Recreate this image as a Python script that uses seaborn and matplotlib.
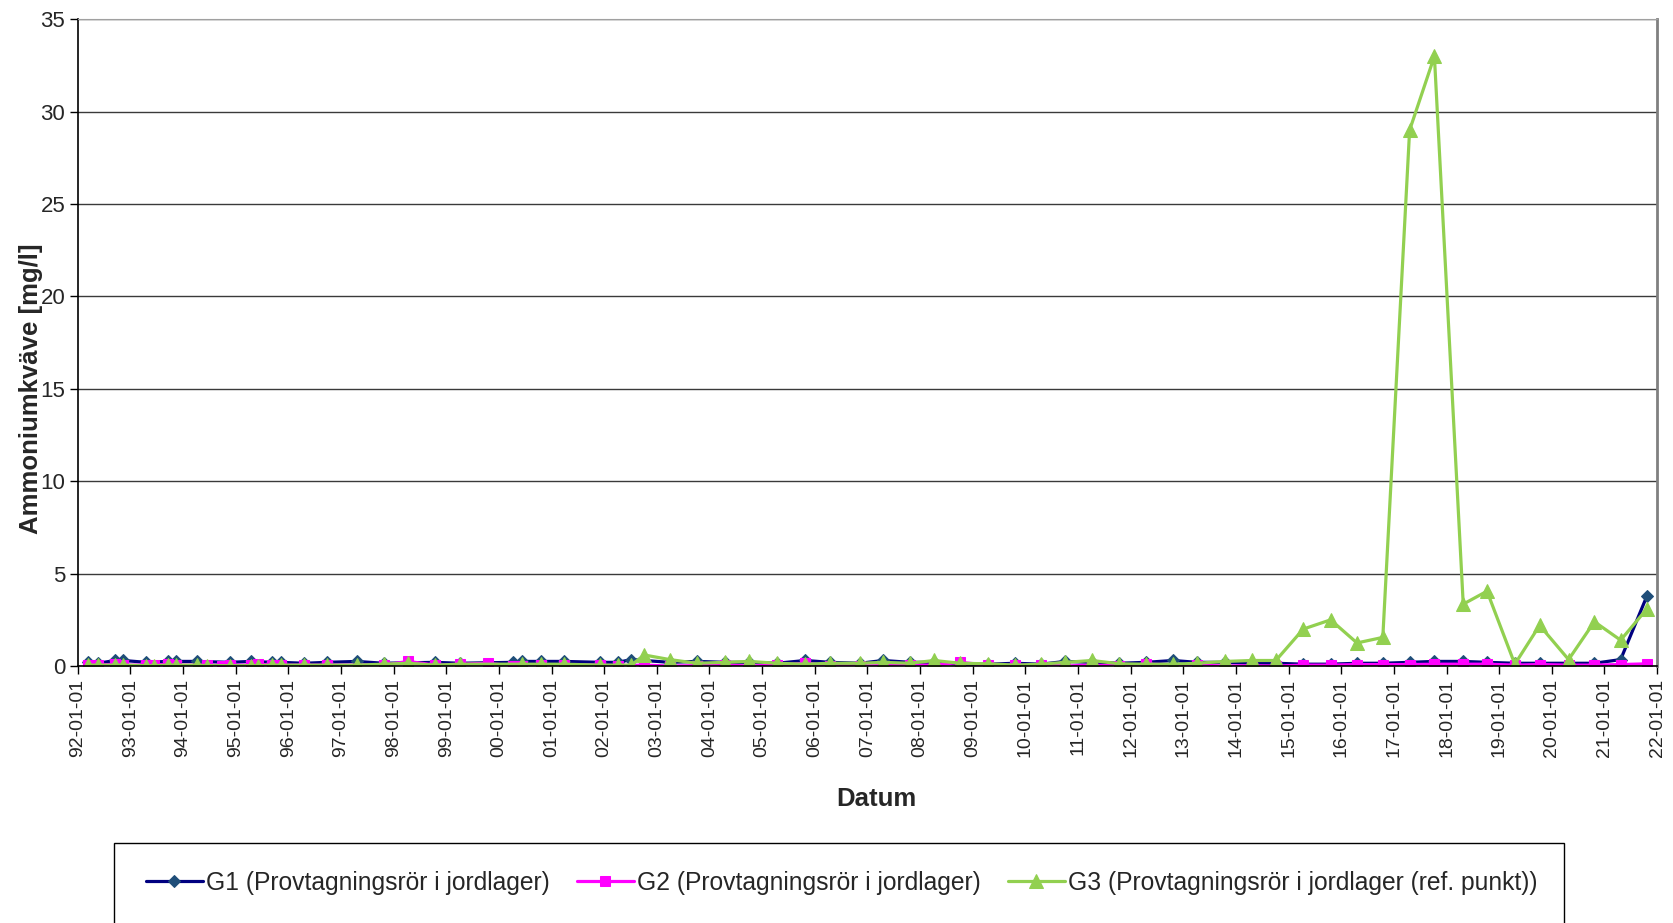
import numpy as np
import pandas as pd
import matplotlib
matplotlib.use("Agg")
import matplotlib.pyplot as plt
import matplotlib.dates as mdates
from matplotlib.patches import Rectangle
import seaborn as sns

sns.set_style("white")
plt.rcParams['font.family'] = ['Liberation Sans', 'DejaVu Sans']

nan = np.nan

# sampling dates
dates = [
    "1992-03-14", "1992-05-22", "1992-09-16", "1992-11-13", "1993-04-20", "1993-06-14",
    "1993-09-16", "1993-11-13", "1994-04-05", "1994-06-14", "1994-09-27", "1994-11-20",
    "1995-04-16", "1995-06-07", "1995-09-13", "1995-11-13", "1996-04-20", "1996-09-27",
    "1997-04-20", "1997-10-23", "1998-04-13", "1998-10-16", "1999-04-05", "1999-10-20",
    "2000-04-09", "2000-06-07", "2000-10-23", "2001-03-29", "2001-12-02", "2002-04-05",
    "2002-07-09", "2002-10-05", "2003-04-01", "2003-10-05", "2004-04-20", "2004-10-05",
    "2005-04-13", "2005-10-27", "2006-04-16", "2006-11-10", "2007-04-20", "2007-10-23",
    "2008-04-09", "2008-10-05", "2009-04-20", "2009-10-23", "2010-04-20", "2010-10-05",
    "2011-04-09", "2011-10-16", "2012-04-16", "2012-10-23", "2013-04-05", "2013-10-20",
    "2014-04-23", "2014-10-05", "2015-04-13", "2015-10-20", "2016-04-20", "2016-10-16",
    "2017-04-20", "2017-10-09", "2018-04-27", "2018-10-09", "2019-04-20", "2019-10-09",
    "2020-04-27", "2020-10-23", "2021-04-23", "2021-10-23",
]

g1 = [
    0.2, 0.15, 0.3, 0.3, 0.2, nan, 0.25, 0.25, 0.25, nan, nan, 0.2,
    0.25, nan, 0.2, 0.2, 0.15, 0.2, 0.25, 0.15, nan, 0.2, 0.15, nan,
    0.2, 0.25, 0.25, 0.25, 0.2, 0.2, 0.35, nan, 0.2, 0.25, 0.2, 0.2,
    0.15, 0.3, 0.2, 0.15, 0.3, 0.2, 0.2, 0.1, 0.1, 0.15, 0.1, 0.25,
    0.2, 0.15, 0.2, 0.3, 0.2, 0.2, 0.15, 0.15, 0.1, 0.1, 0.15, 0.15,
    0.2, 0.25, 0.25, 0.2, 0.15, 0.15, 0.15, 0.15, 0.35, 3.8,
]

g2 = [
    0.05, 0.05, 0.1, 0.05, 0.05, 0.05, 0.1, 0.05, nan, 0.05, 0.02, 0.05,
    0.05, 0.1, 0.05, 0.05, 0.05, 0.05, nan, 0.05, 0.25, 0.05, 0.1, 0.15,
    0.0, 0.02, 0.05, 0.05, 0.05, 0.02, nan, 0.05, 0.0, 0.02, 0.05, 0.0,
    0.05, 0.15, 0.02, 0.0, 0.02, 0.05, 0.05, 0.2, 0.05, 0.05, 0.05, 0.0,
    0.05, 0.0, 0.1, nan, 0.05, 0.0, 0.02, 0.0, 0.05, 0.05, 0.08, 0.08,
    0.08, 0.1, 0.1, 0.1, 0.05, 0.08, 0.05, 0.05, 0.08, 0.12,
]

g3 = [
    0.05, 0.05, 0.05, 0.05, 0.02, 0.02, 0.05, 0.05, 0.05, 0.02, nan, 0.02,
    0.02, 0.02, 0.05, 0.05, 0.05, 0.05, 0.05, 0.1, 0.15, 0.05, 0.1, nan,
    nan, 0.1, 0.1, 0.1, 0.05, 0.05, 0.05, 0.6, 0.35, 0.15, 0.2, 0.25,
    0.15, 0.1, 0.15, 0.15, 0.2, 0.15, 0.3, 0.15, 0.12, 0.05, 0.1, 0.2,
    0.3, 0.12, 0.1, 0.1, 0.15, 0.25, 0.3, 0.3, 2.0, 2.5, 1.25, 1.55,
    29.0, 33.0, 3.35, 4.05, 0.1, 2.2, 0.35, 2.4, 1.4, 3.1,
]

labels = [
    "G1 (Provtagningsrör i jordlager)",
    "G2 (Provtagningsrör i jordlager)",
    "G3 (Provtagningsrör i jordlager (ref. punkt))",
]

fig = plt.figure(figsize=(16.74, 9.23), dpi=100)
ax = fig.add_axes([0.0464, 0.2784, 0.9435, 0.7007])

styles = [
    dict(color="#000080", marker="D", markersize=6, markerfacecolor="#1F4E79", markeredgecolor="#1F4E79"),
    dict(color="#FF00FF", marker="s", markersize=7.5, markerfacecolor="#FF00FF", markeredgecolor="#FF00FF"),
    dict(color="#92D050", marker="^", markersize=9.5, markerfacecolor="#92D050", markeredgecolor="#92D050"),
]

for vals, lab, st in zip([g1, g2, g3], labels, styles):
    df = pd.DataFrame({"Datum": pd.to_datetime(dates), "val": vals}).dropna()
    sns.lineplot(data=df, x="Datum", y="val", ax=ax, label=lab, linewidth=2.3,
                 estimator=None, sort=False, legend=False, **st)

ax.set_xlim(pd.Timestamp("1992-01-01"), pd.Timestamp("2022-01-01"))
ax.set_ylim(0, 35)
ax.set_yticks(range(0, 36, 5))
ax.xaxis.set_major_locator(mdates.YearLocator())
ax.xaxis.set_major_formatter(mdates.DateFormatter("%y-%m-%d"))
plt.setp(ax.get_xticklabels(), rotation=90, ha="center", va="top")
ax.tick_params(axis="both", direction="out", length=6, width=1, color="black", pad=3)
ax.tick_params(axis="x", bottom=True, labelsize=14)
ax.tick_params(axis="y", left=True, labelsize=16)

ax.yaxis.grid(True, color="#3a3a3a", linewidth=1)
ax.xaxis.grid(False)
ax.set_axisbelow(True)

for s in ["left", "bottom"]:
    ax.spines[s].set_color("black")
    ax.spines[s].set_linewidth(1.2)
ax.spines["top"].set_color("#a0a0a0")
ax.spines["right"].set_color("#808080")
ax.spines["right"].set_linewidth(2)

ax.set_ylabel("Ammoniumkväve [mg/l]", fontsize=18.5, fontweight="bold")
ax.yaxis.set_label_coords(-0.022, 0.4285)
ax.set_xlabel("Datum", fontsize=18.5, fontweight="bold")
ax.xaxis.set_label_coords(0.506, -0.205)
ax.xaxis.label.set_verticalalignment("center")

# legend box (runs past the bottom of the picture)
fig.patches.append(Rectangle((0.0681, -0.05), 0.866, 0.1367, transform=fig.transFigure,
                             facecolor="white", edgecolor="black", linewidth=1))
handles = ax.get_lines()[:3]
fig.legend(handles, labels, loc="center", bbox_to_anchor=(0.503, 0.0433), ncol=3,
           frameon=False, fontsize=17.7, handlelength=2.3, handletextpad=0.15,
           columnspacing=1.1, numpoints=1)

fig.savefig("out.png", dpi=100)
